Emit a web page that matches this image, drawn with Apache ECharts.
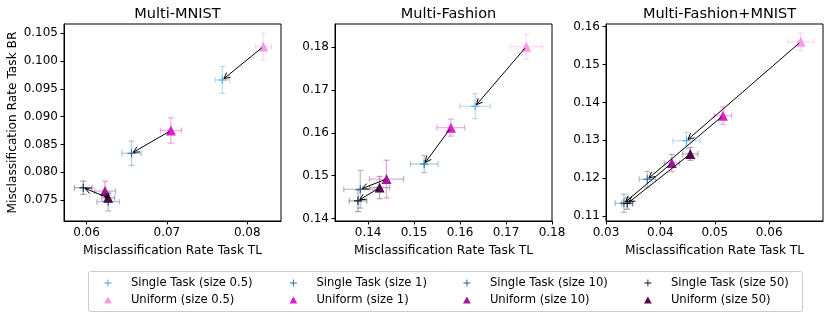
<!DOCTYPE html>
<html><head><meta charset="utf-8">
<script src="https://cdn.jsdelivr.net/npm/echarts@6/dist/echarts.min.js"></script>
<style>html,body{margin:0;padding:0;background:#fff}#c{width:830px;height:319px}</style>
</head><body><div id="c"></div>
<script>
// ---------- data ----------
const panelTitles = ['Multi-MNIST', 'Multi-Fashion', 'Multi-Fashion+MNIST'];
const sizeLabels = ['0.5', '1', '10', '50'];
const xAxisName = 'Misclassification Rate Task TL';
const yAxisName = 'Misclassification Rate Task BR';

// Multi-MNIST
const mnistSingleX    = [0.0769, 0.0656, 0.0627, 0.0596];
const mnistSingleY    = [0.0966, 0.0834, 0.0747, 0.0772];
const mnistSingleXErr = [0.0009, 0.0012, 0.0014, 0.0011];
const mnistSingleYErr = [0.0024, 0.0022, 0.0017, 0.0012];
const mnistUniformX    = [0.0820, 0.0705, 0.0623, 0.0627];
const mnistUniformY    = [0.1026, 0.0875, 0.0766, 0.0754];
const mnistUniformXErr = [0.0010, 0.0013, 0.0013, 0.0008];
const mnistUniformYErr = [0.0024, 0.0023, 0.0018, 0.0008];

// Multi-Fashion
const fashionSingleX    = [0.1633, 0.1522, 0.1383, 0.1378];
const fashionSingleY    = [0.1662, 0.1527, 0.1468, 0.1441];
const fashionSingleXErr = [0.0033, 0.0030, 0.0036, 0.0019];
const fashionSingleYErr = [0.0029, 0.0020, 0.0044, 0.0025];
const fashionUniformX    = [0.1744, 0.1580, 0.1440, 0.1425];
const fashionUniformY    = [0.1801, 0.1612, 0.1492, 0.1472];
const fashionUniformXErr = [0.0035, 0.0030, 0.0037, 0.0022];
const fashionUniformYErr = [0.0029, 0.0020, 0.0044, 0.0026];

// Multi-Fashion+MNIST
const fmSingleX    = [0.0448, 0.0376, 0.0333, 0.0339];
const fmSingleY    = [0.1299, 0.1197, 0.1134, 0.1133];
const fmSingleXErr = [0.0025, 0.0015, 0.0016, 0.0010];
const fmSingleYErr = [0.0022, 0.0021, 0.0024, 0.0015];
const fmUniformX    = [0.0658, 0.0515, 0.0421, 0.0455];
const fmUniformY    = [0.1560, 0.1365, 0.1240, 0.1264];
const fmUniformXErr = [0.0024, 0.0016, 0.0014, 0.0014];
const fmUniformYErr = [0.0023, 0.0023, 0.0023, 0.0017];

// axis ranges and tick labels
const xRanges = [[0.0572, 0.0842], [0.1328, 0.1800], [0.0300, 0.0699]];
const yRanges = [[0.07122, 0.10667], [0.1394, 0.1854], [0.1087, 0.1607]];
const xTickLabels = [['0.06', '0.07', '0.08'], ['0.14', '0.15', '0.16', '0.17', '0.18'], ['0.03', '0.04', '0.05', '0.06']];
const yTickLabels = [['0.075', '0.080', '0.085', '0.090', '0.095', '0.100', '0.105'],
                     ['0.14', '0.15', '0.16', '0.17', '0.18'],
                     ['0.11', '0.12', '0.13', '0.14', '0.15', '0.16']];

// ---------- styling ----------
const singleColors  = ['#4ea6e6', '#1f6eb2', '#2a5985', '#121c3a'];
const uniformColors = ['#f59be8', '#de1ec9', '#a2169c', '#520a4d'];
const FONT = 'DejaVu Sans';
const plusPath = 'path://M3.9,0H5.1V3.9H9V5.1H5.1V9H3.9V5.1H0V3.9H3.9Z';
const triPath = 'path://M5,0L10,9H0Z';

const panels = [
  {sx: mnistSingleX, sy: mnistSingleY, sxe: mnistSingleXErr, sye: mnistSingleYErr,
   ux: mnistUniformX, uy: mnistUniformY, uxe: mnistUniformXErr, uye: mnistUniformYErr},
  {sx: fashionSingleX, sy: fashionSingleY, sxe: fashionSingleXErr, sye: fashionSingleYErr,
   ux: fashionUniformX, uy: fashionUniformY, uxe: fashionUniformXErr, uye: fashionUniformYErr},
  {sx: fmSingleX, sy: fmSingleY, sxe: fmSingleXErr, sye: fmSingleYErr,
   ux: fmUniformX, uy: fmUniformY, uxe: fmUniformXErr, uye: fmUniformYErr}
];

const gridLefts = [64, 335, 606];
const gridTop = 24, gridW = 217, gridH = 197;

function hexA(hex, a) {
  const n = parseInt(hex.slice(1), 16);
  return 'rgba(' + ((n >> 16) & 255) + ',' + ((n >> 8) & 255) + ',' + (n & 255) + ',' + a + ')';
}

function errRenderer(color) {
  return function (params, api) {
    const x = api.value(0), y = api.value(1), xe = api.value(2), ye = api.value(3);
    const l = api.coord([x - xe, y]), r = api.coord([x + xe, y]);
    const t = api.coord([x, y + ye]), b = api.coord([x, y - ye]);
    const cap = 3;
    const style = {stroke: hexA(color, 0.35), lineWidth: 1.3, fill: null};
    const ln = (x1, y1, x2, y2) => ({type: 'line', shape: {x1, y1, x2, y2}, style});
    return {type: 'group', children: [
      ln(l[0], l[1], r[0], r[1]),
      ln(t[0], t[1], b[0], b[1]),
      ln(l[0], l[1] - cap, l[0], l[1] + cap),
      ln(r[0], r[1] - cap, r[0], r[1] + cap),
      ln(t[0] - cap, t[1], t[0] + cap, t[1]),
      ln(b[0] - cap, b[1], b[0] + cap, b[1])
    ]};
  };
}

function arrowRender(params, api) {
  const a = api.coord([api.value(0), api.value(1)]);
  const b = api.coord([api.value(2), api.value(3)]);
  const dx = b[0] - a[0], dy = b[1] - a[1];
  const L = Math.hypot(dx, dy) || 1;
  const ux = dx / L, uy = dy / L;
  const shrink = 2;
  const p0 = [a[0] + ux * shrink, a[1] + uy * shrink];
  const p1 = [b[0] - ux * shrink, b[1] - uy * shrink];
  const hl = 6, hw = 3;
  const base = [p1[0] - ux * hl, p1[1] - uy * hl];
  const h1 = [base[0] - uy * hw, base[1] + ux * hw];
  const h2 = [base[0] + uy * hw, base[1] - ux * hw];
  const style = {stroke: '#000', lineWidth: 1, fill: null};
  return {type: 'group', children: [
    {type: 'line', shape: {x1: p0[0], y1: p0[1], x2: p1[0], y2: p1[1]}, style},
    {type: 'polyline', shape: {points: [h1, p1, h2]}, style}
  ]};
}

const grids = [], xAxes = [], yAxes = [], titles = [], series = [];
panels.forEach((p, i) => {
  grids.push({left: gridLefts[i], top: gridTop, width: gridW, height: gridH,
    show: true, borderColor: '#000', borderWidth: 1, containLabel: false});
  titles.push({text: panelTitles[i], left: gridLefts[i] + gridW / 2, top: 2, textAlign: 'center',
    textStyle: {fontFamily: FONT, fontSize: 14.5, fontWeight: 'normal', color: '#000'}});
  const xt = xTickLabels[i].map(Number), yt = yTickLabels[i].map(Number);
  const fmt = (labels) => (v) => {
    let best = 0, bd = Infinity;
    labels.forEach((s, k) => { const d = Math.abs(Number(s) - v); if (d < bd) { bd = d; best = k; } });
    return labels[best];
  };
  xAxes.push({gridIndex: i, type: 'value', min: xRanges[i][0], max: xRanges[i][1],
    splitLine: {show: false},
    axisLine: {show: true, onZero: false, lineStyle: {color: '#000', width: 1}},
    axisTick: {show: true, length: 3.5, customValues: xt, lineStyle: {color: '#000'}},
    axisLabel: {customValues: xt, formatter: fmt(xTickLabels[i]), margin: 6,
      fontFamily: FONT, fontSize: 12, color: '#000'},
    name: xAxisName, nameLocation: 'middle', nameGap: 24,
    nameTextStyle: {fontFamily: FONT, fontSize: 12.2, color: '#000'}});
  yAxes.push({gridIndex: i, type: 'value', min: yRanges[i][0], max: yRanges[i][1],
    splitLine: {show: false},
    axisLine: {show: true, onZero: false, lineStyle: {color: '#000', width: 1}},
    axisTick: {show: true, length: 3.5, customValues: yt, lineStyle: {color: '#000'}},
    axisLabel: {customValues: yt, formatter: fmt(yTickLabels[i]), margin: 6,
      fontFamily: FONT, fontSize: 12, color: '#000'},
    name: i === 0 ? yAxisName : '', nameLocation: 'middle', nameGap: 45,
    nameTextStyle: {fontFamily: FONT, fontSize: 12.2, color: '#000'}});

  sizeLabels.forEach((s, k) => {
    series.push({type: 'custom', name: 'err-s-' + i + '-' + k, xAxisIndex: i, yAxisIndex: i, z: 1,
      silent: true, renderItem: errRenderer(singleColors[k]),
      data: [[p.sx[k], p.sy[k], p.sxe[k], p.sye[k]]]});
    series.push({type: 'custom', name: 'err-u-' + i + '-' + k, xAxisIndex: i, yAxisIndex: i, z: 1,
      silent: true, renderItem: errRenderer(uniformColors[k]),
      data: [[p.ux[k], p.uy[k], p.uxe[k], p.uye[k]]]});
  });
  sizeLabels.forEach((s, k) => {
    series.push({type: 'scatter', name: 'Single Task (size ' + s + ')', xAxisIndex: i, yAxisIndex: i, z: 3,
      symbol: plusPath, symbolSize: 8, itemStyle: {color: singleColors[k], opacity: 1},
      data: [[p.sx[k], p.sy[k]]]});
    series.push({type: 'scatter', name: 'Uniform (size ' + s + ')', xAxisIndex: i, yAxisIndex: i, z: 3,
      symbol: 'triangle', symbolSize: 10, itemStyle: {color: uniformColors[k], opacity: 1},
      data: [[p.ux[k], p.uy[k]]]});
  });
  series.push({type: 'custom', name: 'arrows-' + i, xAxisIndex: i, yAxisIndex: i, z: 5, silent: true,
    renderItem: arrowRender,
    data: sizeLabels.map((s, k) => [p.ux[k], p.uy[k], p.sx[k], p.sy[k]])});
});

const legendLefts = [104, 289.5, 463, 644];
const legends = sizeLabels.map((s, k) => ({
  orient: 'vertical', left: legendLefts[k], top: 276, padding: 0,
  itemWidth: 36, itemHeight: 7, itemGap: 3,
  selectedMode: false,
  textStyle: {fontFamily: FONT, fontSize: 11.6, color: '#000', lineHeight: 14},
  data: [{name: 'Single Task (size ' + s + ')', icon: plusPath},
         {name: 'Uniform (size ' + s + ')', icon: triPath}]
}));

const chart = echarts.init(document.getElementById('c'), null, {renderer: 'canvas'});
chart.setOption({
  animation: false,
  backgroundColor: '#fff',
  title: titles,
  grid: grids,
  xAxis: xAxes,
  yAxis: yAxes,
  legend: legends,
  graphic: [{type: 'rect', x: 0, y: 0, shape: {x: 88.5, y: 271.5, width: 714, height: 40, r: 2},
    style: {fill: null, stroke: '#cccccc', lineWidth: 1}, silent: true, z: -1}],
  series: series
});
</script>
</body></html>
